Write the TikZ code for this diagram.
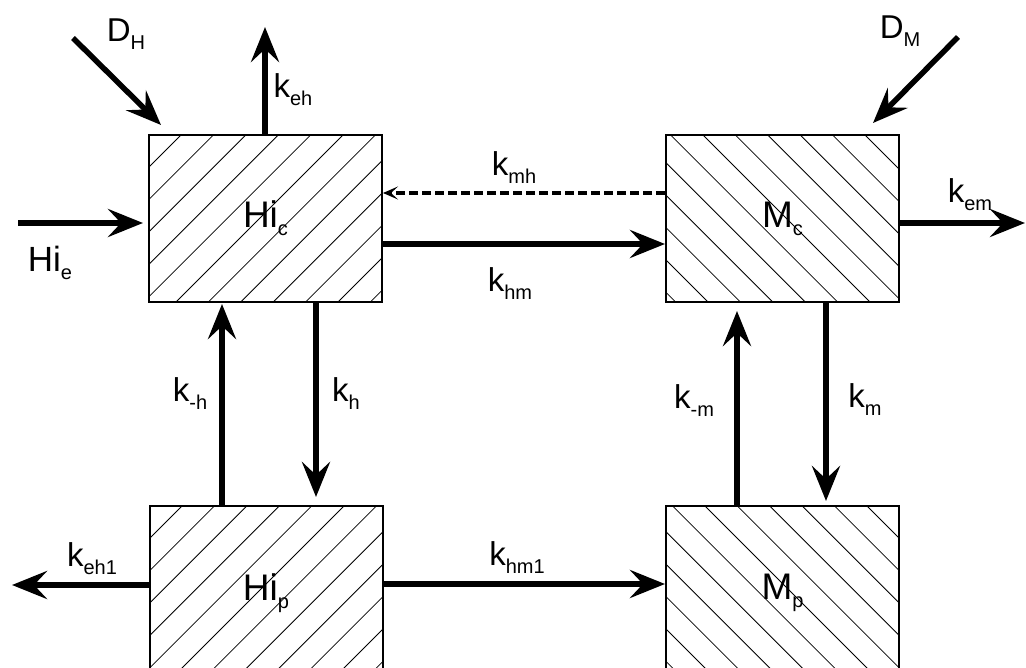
\documentclass[tikz,border=0pt]{standalone}
\usepackage{fontspec}
\setmainfont{Liberation Sans}
\usetikzlibrary{arrows.meta}
\newcommand\lbl[3]{\fontsize{#1}{#1}\selectfont #2\raisebox{-8pt}{\fontsize{20}{20}\selectfont #3}}
\tikzset{
  comp/.style={draw=black, line width=2pt, inner sep=0pt, minimum width=233pt},
  hatchline/.style={line width=0.8pt, black},
  hatchNE/.style={path picture={
     \foreach \k in {-12,...,12}
       \draw[hatchline] ([shift={(\k*32.4pt+#1pt-300pt,-300pt)}]path picture bounding box.center) -- ++(600pt,600pt);}},
  hatchNW/.style={path picture={
     \foreach \k in {-12,...,12}
       \draw[hatchline] ([shift={(\k*32.4pt+#1pt-300pt,300pt)}]path picture bounding box.center) -- ++(600pt,-600pt);}},
  flow/.style={line width=5.5pt, -{Stealth[length=35pt,width=28pt,inset=13pt]}},
  back/.style={line width=3.2pt, dash pattern=on 9pt off 4pt,
     -{Stealth[length=15pt,width=13pt,inset=7pt]}},
  txt/.style={inner sep=0pt}
}
\begin{document}
\begin{tikzpicture}[x=1pt,y=-1pt]
\useasboundingbox (0,0) rectangle (1026,668);
% compartments
\node[comp, minimum height=167pt, hatchNE=26.4] (Hic) at (265.5,218.5) {\lbl{37}{Hi}{c}};
\node[comp, minimum height=167pt, hatchNW=4] (Mc) at (782.5,218.5) {\lbl{37}{M}{c}};
\node[comp, minimum height=174pt, hatchNE=23.4] (Hip) at (266,593) {\lbl{37}{Hi}{p}};
\node[comp, minimum height=174pt, hatchNW=9.5] (Mp) at (782.5,593) {\lbl{37}{M}{p}};
% free ends
\coordinate (HieS) at (18,223);
\coordinate (HieT) at (143,223);
\coordinate (DHs) at (73,38);
\coordinate (DHt) at (161,125);
\coordinate (DMs) at (958,37);
\coordinate (DMt) at (873,123);
\coordinate (kehT) at (265,27);
\coordinate (kemT) at (1025,223);
\coordinate (keh1T) at (12,585);
% arrows
\draw[flow] (HieS) -- (HieT);
\draw[flow] (DHs) -- (DHt);
\draw[flow] (DMs) -- (DMt);
\draw[flow] (Hic.north -| kehT) -- (kehT);
\draw[flow] (Mc.east |- kemT) -- (kemT);
\draw[back] (Mc.west |- 0,193) -- (Hic.east |- 0,193);
\draw[flow] (Hic.east |- 0,244) -- (Mc.west |- 0,244);
\draw[flow] (Hip.north -| 222,0) -- ([yshift=-1pt]Hic.south -| 222,0);
\draw[flow, shorten >=8pt] (Hic.south -| 316,0) -- (Hip.north -| 316,0);
\draw[flow, shorten >=3pt] (Mp.north -| 737,0) -- ([yshift=-5pt]Mc.south -| 737,0);
\draw[flow, shorten >=4pt] (Mc.south -| 826,0) -- (Mp.north -| 826,0);
\draw[flow] (Hip.west |- keh1T) -- (keh1T);
\draw[flow] (Hip.east |- 0,584) -- (Mp.west |- 0,584);
% labels
\node[txt] (lDH) at (126,34) {\lbl{33}{D}{H}};
\node[txt] (lDM) at (900,31) {\lbl{33}{D}{M}};
\node[txt] (lkeh) at (293,90) {\lbl{33}{k}{eh}};
\node[txt] (lHie) at (50,263) {\lbl{35}{Hi}{e}};
\node[txt] (lkem) at (970,195) {\lbl{33}{k}{em}};
\node[txt] (lkmh) at (514,168) {\lbl{33}{k}{mh}};
\node[txt] (lkhm) at (510,284) {\lbl{33}{k}{hm}};
\node[txt] (lkmh1) at (190,394) {\lbl{33}{k}{-h}};
\node[txt] (lkh) at (346,394) {\lbl{33}{k}{h}};
\node[txt] (lkmm) at (694,401) {\lbl{33}{k}{-m}};
\node[txt] (lkm) at (865,400) {\lbl{33}{k}{m}};
\node[txt] (lkeh1) at (92,559) {\lbl{33}{k}{eh1}};
\node[txt] (lkhm1) at (517,558) {\lbl{33}{k}{hm1}};
\end{tikzpicture}
\end{document}
